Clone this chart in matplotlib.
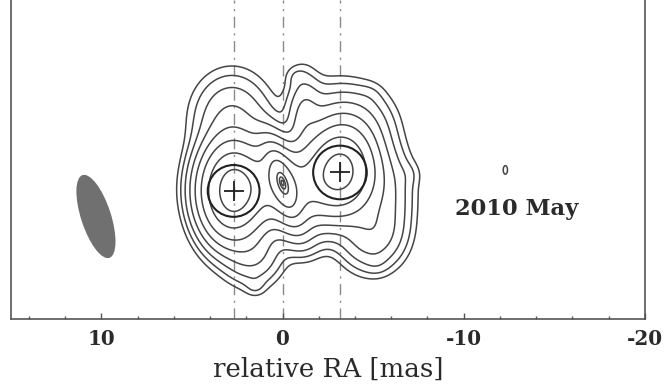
import numpy as np
import matplotlib
matplotlib.use("Agg")
import matplotlib.pyplot as plt
from matplotlib.patches import Ellipse, Circle
from matplotlib.ticker import MultipleLocator

# Restoring beam: centre, FWHM axes (mas), major-axis angle from the +RA axis (deg)
beam_ra, beam_dec = 10.30, -1.85
beam_maj, beam_min, beam_pa = 4.8, 1.65, 72.0

# Gaussian brightness components: position (mas), peak (lowest-contour units),
# sigma along RA / Dec before rotation (mas), rotation from +RA axis (deg)
gauss_ra = [2.75, -3.20, -0.30, 2.80, -1.20, -2.80, -4.30, -5.60, 1.60, -1.00, -4.90,
            0.0, 0.0, 0.0, -12.3,
            1.50, -0.70, -4.90, -7.00, -5.20]
gauss_dec = [-0.45, 0.70, -0.20, 3.60, 3.50, 3.60, 3.00, -0.50, -3.90, -2.90, -2.80,
             0.0, 0.0, 0.0, 0.72,
             -5.70, 5.90, 4.90, 0.50, -4.40]
gauss_amp = [160, 150, 70, 8, 8, 5, 6.5, 8, 8, 2.5, 12,
             80, 150, 1000, 2,
             1.2, 1.0, 0.5, 0.8, 0.8]
gauss_sx = [0.95, 1.00, 1.80, 1.20, 0.55, 1.30, 1.10, 0.90, 0.90, 1.00, 1.00,
            1.40, 0.80, 0.20, 0.20,
            0.35, 0.40, 0.45, 0.45, 0.40]
gauss_sy = [1.45, 1.30, 1.20, 1.40, 1.40, 1.20, 1.20, 1.50, 1.00, 0.80, 1.10,
            0.55, 0.32, 0.08, 0.10,
            0.35, 0.40, 0.45, 0.45, 0.40]
gauss_rot = [0, 0, 0, 0, 0, 0, 0, 0, 0, 0, 0,
             72, 72, 72, 90,
             0, 0, 0, 0, 0]

contour_levels = [2 ** k for k in range(11)]

# Model-fit circular components
comp_ra = [2.70, -3.17]
comp_dec = [-0.44, 0.58]
comp_radius = [1.43, 1.48]

# Reference positions marked with vertical lines
vline_ra = [2.68, 0.0, -3.18]

tick_values = [10, 0, -10, -20]
tick_labels = ["10", "0", "-10", "-20"]
epoch_label = "2010 May"


def gauss2d(X, Y, x0, y0, amp, sx, sy, rot_deg):
    t = np.deg2rad(rot_deg)
    dx, dy = X - x0, Y - y0
    u = dx * np.cos(t) + dy * np.sin(t)
    v = -dx * np.sin(t) + dy * np.cos(t)
    return amp * np.exp(-0.5 * (u ** 2 / sx ** 2 + v ** 2 / sy ** 2))


ra = np.arange(-14.0, 8.0, 0.025)
dec = np.arange(-8.0, 9.5, 0.025)
X, Y = np.meshgrid(ra, dec)
Z = np.zeros_like(X)
for x0, y0, a, sx, sy, rot in zip(gauss_ra, gauss_dec, gauss_amp,
                                  gauss_sx, gauss_sy, gauss_rot):
    Z += gauss2d(X, Y, x0, y0, a, sx, sy, rot)

fig = plt.figure(figsize=(6.67, 3.85), dpi=100)
ax = fig.add_axes([0.016, 0.1714, 0.951, 0.8286])
ax.set_xlim(15, -20)
ax.set_ylim(-7.51, 10.10)
ax.set_aspect("equal", adjustable="box")

edge = "#555555"
for x in vline_ra:
    ax.axvline(x, color="#8a8a8a", lw=1.0, dashes=(8, 4, 1.5, 4), zorder=1)

ax.contour(X, Y, Z, levels=contour_levels, colors="#454545", linewidths=1.1, zorder=2)

for x0, y0, r in zip(comp_ra, comp_dec, comp_radius):
    ax.add_patch(Circle((x0, y0), r, fill=False, ec="#202020", lw=1.5, zorder=3))
ax.plot(comp_ra, comp_dec, "+", ms=15, mew=1.3, color="#202020", zorder=3)

ax.add_patch(Ellipse((beam_ra, beam_dec), beam_maj, beam_min, angle=beam_pa,
                     fc="#707070", ec="none", zorder=2))

ax.text(-12.91, -1.77, epoch_label, ha="center", va="baseline",
        fontsize=16.3, fontweight="bold", family="DejaVu Serif", color="#2a2a2a")

ax.spines["top"].set_visible(False)
for s in ("left", "right", "bottom"):
    ax.spines[s].set_color(edge)
    ax.spines[s].set_linewidth(1.2)

ax.set_xticks(tick_values)
ax.set_xticklabels(tick_labels, fontsize=14.4, fontweight="bold",
                   family="DejaVu Serif", color="#2a2a2a")
ax.xaxis.set_minor_locator(MultipleLocator(2))
ax.tick_params(axis="x", which="major", direction="in", length=4.0, width=1.0,
               color=edge, pad=7)
ax.tick_params(axis="x", which="minor", direction="in", length=2.5, width=1.0,
               color=edge)
ax.set_yticks([])
ax.set_xlabel("relative RA [mas]", fontsize=18.8, family="DejaVu Serif",
              color="#2a2a2a", labelpad=6)

fig.savefig("out.png", dpi=100)
